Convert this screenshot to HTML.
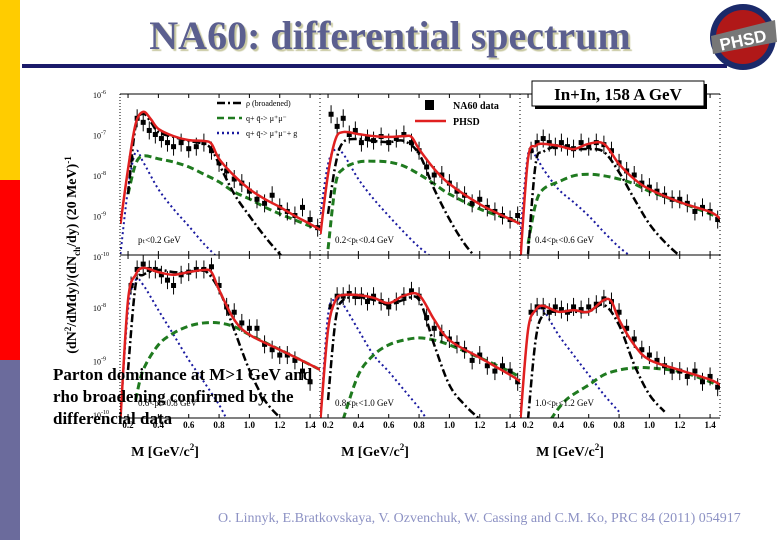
<!DOCTYPE html>
<html><head><meta charset="utf-8"><style>
body{margin:0;width:780px;height:540px;background:#fff;overflow:hidden;position:relative;font-family:"Liberation Serif",serif}
.a{position:absolute}
</style></head><body>
<div class="a" style="left:0;top:0;width:20px;height:180px;background:#ffcc00"></div>
<div class="a" style="left:0;top:180px;width:20px;height:180px;background:#ff0000"></div>
<div class="a" style="left:0;top:360px;width:20px;height:180px;background:#6b6b9c"></div>
<div class="a" style="left:80px;top:12px;width:620px;text-align:center;font-size:40px;font-weight:bold;color:#5b5f8f;text-shadow:2px 2px 1px #c8c8a0">NA60: differential spectrum</div>
<div class="a" style="left:22px;top:64px;width:705px;height:4px;background:#1a1a6a"></div>
<svg class="a" style="left:705px;top:2px" width="75" height="70">
<circle cx="38" cy="35" r="33" fill="#1b2a6a"/><circle cx="38" cy="35" r="27" fill="#b01818"/>
<polygon points="6,34 70,18 72,40 8,52" fill="#777"/>
<text x="38" y="44" font-size="17" font-weight="bold" fill="#fff" text-anchor="middle" transform="rotate(-12 38 38)" font-family="Liberation Sans, sans-serif">PHSD</text></svg>
<svg id="ch" class="a" style="left:0;top:0" width="780" height="540"></svg>
<div class="a" style="left:53px;top:364px;font-size:17px;font-weight:bold;line-height:22px;color:#000">Parton dominance at M&gt;1 GeV and<br>rho broadening confirmed by the<br>differencial data</div>
<div class="a" style="left:218px;top:511px;font-size:14px;color:#8d92c4;white-space:nowrap">O. Linnyk, E.Bratkovskaya, V. Ozvenchuk, W. Cassing and C.M. Ko, PRC 84 (2011) 054917</div>
<script>
// per-panel curves: M values and log10 values
const redM=[[0.15,0.2,0.25,0.3,0.35,0.4,0.5,0.6,0.7,0.75,0.8,0.9,1.0,1.1,1.2,1.3,1.4,1.47],[0.15,0.2,0.25,0.3,0.4,0.5,0.6,0.7,0.75,0.8,0.9,1.0,1.2,1.4,1.47],[0.15,0.2,0.25,0.3,0.4,0.5,0.6,0.7,0.8,0.9,1.0,1.2,1.4,1.47],[0.15,0.2,0.25,0.3,0.4,0.5,0.6,0.7,0.75,0.8,0.9,1.0,1.2,1.4,1.47],[0.15,0.2,0.25,0.3,0.4,0.5,0.6,0.7,0.8,0.9,1.0,1.2,1.4,1.47],[0.15,0.2,0.25,0.3,0.4,0.5,0.6,0.7,0.75,0.8,0.9,1.0,1.2,1.4,1.47]];
const redV=[[-9.21,-7.85,-6.74,-6.44,-6.62,-6.86,-7.04,-7.14,-7.16,-7.23,-7.6,-8.02,-8.35,-8.59,-8.79,-9.01,-9.21,-9.36],[-9.46,-7.98,-7.11,-6.94,-6.99,-7.04,-7.06,-7.04,-7.06,-7.36,-7.85,-8.22,-8.72,-9.09,-9.21],[-10.07,-7.6,-7.28,-7.23,-7.28,-7.36,-7.23,-7.23,-7.73,-8.1,-8.35,-8.67,-8.91,-9.09],[-10.1,-7.87,-7.4,-7.27,-7.35,-7.4,-7.35,-7.31,-7.35,-7.68,-8.24,-8.52,-8.8,-9.08,-9.18],[-10.1,-8.43,-7.87,-7.78,-7.78,-7.83,-7.93,-7.79,-7.78,-8.24,-8.62,-8.95,-9.27,-9.4],[-10.1,-8.43,-8.06,-7.98,-8.09,-8.06,-8.09,-7.87,-7.9,-8.24,-8.71,-8.99,-9.18,-9.36,-9.46]];
const rhoM=[[0.2,0.25,0.3,0.35,0.4,0.5,0.6,0.7,0.75,0.8,0.9,1.0,1.1,1.2,1.3],[0.2,0.25,0.3,0.4,0.5,0.6,0.7,0.8,0.9,1.0,1.1,1.2],[0.2,0.25,0.3,0.4,0.5,0.6,0.7,0.8,0.9,1.0,1.1,1.2],[0.2,0.25,0.3,0.4,0.5,0.6,0.7,0.8,0.9,1.0,1.1,1.2],[0.2,0.25,0.3,0.4,0.5,0.6,0.7,0.8,0.9,1.0,1.1,1.2],[0.2,0.25,0.3,0.4,0.5,0.6,0.7,0.8,0.9,1.0,1.1]];
const rhoV=[[-8.47,-6.79,-6.49,-6.69,-6.94,-7.06,-7.16,-7.23,-7.36,-7.73,-8.47,-9.01,-9.51,-9.95,-10.32],[-8.96,-7.73,-7.19,-7.11,-7.16,-7.19,-7.16,-7.48,-8.35,-9.09,-9.7,-10.15],[-9.95,-7.73,-7.43,-7.28,-7.36,-7.36,-7.43,-7.93,-8.59,-9.21,-9.65,-10.0],[-9.18,-7.59,-7.4,-7.31,-7.35,-7.35,-7.31,-7.68,-8.43,-9.18,-9.74,-10.07],[-9.74,-8.24,-7.87,-7.83,-7.87,-7.96,-7.87,-7.87,-8.71,-9.46,-9.83,-10.1],[-10.1,-8.62,-8.15,-8.09,-8.09,-8.09,-7.96,-8.34,-9.08,-9.64,-9.96]];
const qqM=[[0.2,0.25,0.3,0.4,0.5,0.6,0.7,0.8,0.9,1.0,1.1,1.2,1.3,1.4,1.47],[0.2,0.25,0.3,0.4,0.5,0.6,0.7,0.8,0.9,1.0,1.2,1.4,1.47],[0.2,0.25,0.3,0.4,0.5,0.6,0.7,0.8,0.9,1.0,1.2,1.4,1.47],[0.25,0.3,0.4,0.5,0.6,0.7,0.8,0.9,1.0,1.2,1.4,1.47],[0.3,0.4,0.5,0.6,0.7,0.8,0.9,1.0,1.2,1.4,1.47],[0.35,0.45,0.6,0.7,0.8,0.9,1.0,1.2,1.4,1.47]];
const qqV=[[-8.47,-7.73,-7.53,-7.6,-7.68,-7.8,-7.98,-8.17,-8.42,-8.59,-8.79,-8.96,-9.11,-9.26,-9.33],[-9.83,-8.22,-7.85,-7.68,-7.66,-7.68,-7.78,-7.98,-8.22,-8.47,-8.84,-9.09,-9.16],[-9.7,-8.72,-8.35,-8.17,-8.02,-7.98,-8.02,-8.1,-8.22,-8.4,-8.67,-8.96,-9.09],[-9.74,-9.18,-8.71,-8.49,-8.36,-8.3,-8.3,-8.37,-8.52,-8.8,-9.08,-9.18],[-10.1,-9.27,-8.9,-8.71,-8.62,-8.58,-8.62,-8.71,-8.95,-9.21,-9.33],[-10.1,-9.74,-9.46,-9.27,-9.18,-9.14,-9.14,-9.21,-9.4,-9.51]];
const qqgM=[[0.15,0.2,0.25,0.3,0.4,0.5,0.6,0.7,0.8],[0.15,0.2,0.25,0.3,0.4,0.5,0.6,0.7,0.8,0.9],[0.15,0.2,0.25,0.3,0.4,0.5,0.6,0.7,0.8,0.9],[0.15,0.2,0.25,0.3,0.4,0.5,0.6,0.7,0.8,0.85],[0.15,0.2,0.25,0.3,0.4,0.5,0.6,0.7,0.8,0.85],[0.15,0.2,0.25,0.3,0.4,0.5,0.6,0.7,0.8]];
const qqgV=[[-9.95,-8.35,-7.43,-7.68,-8.35,-8.84,-9.26,-9.7,-10.07],[-8.96,-7.73,-7.36,-7.48,-8.1,-8.59,-9.01,-9.41,-9.78,-10.07],[-9.46,-7.48,-7.53,-7.85,-8.35,-8.67,-9.01,-9.41,-9.78,-10.07],[-10.1,-8.06,-7.5,-7.59,-8.06,-8.52,-8.99,-9.4,-9.83,-10.1],[-10.1,-8.15,-7.87,-7.96,-8.43,-8.9,-9.21,-9.55,-9.89,-10.1],[-10.1,-8.43,-8.09,-8.06,-8.52,-8.9,-9.27,-9.64,-9.96]];
// NA60 data points (M, log10)
const ptsM=[[0.22,0.26,0.3,0.34,0.38,0.42,0.46,0.5,0.55,0.6,0.65,0.7,0.75,0.8,0.85,0.9,0.95,1.0,1.05,1.1,1.15,1.2,1.25,1.3,1.35,1.4,1.45],[0.22,0.26,0.3,0.34,0.38,0.42,0.46,0.5,0.55,0.6,0.65,0.7,0.75,0.8,0.85,0.9,0.95,1.0,1.05,1.1,1.15,1.2,1.25,1.3,1.35,1.4,1.45],[0.22,0.26,0.3,0.34,0.38,0.42,0.46,0.5,0.55,0.6,0.65,0.7,0.75,0.8,0.85,0.9,0.95,1.0,1.05,1.1,1.15,1.2,1.25,1.3,1.35,1.4,1.45],[0.22,0.26,0.3,0.34,0.38,0.42,0.46,0.5,0.55,0.6,0.65,0.7,0.75,0.8,0.85,0.9,0.95,1.0,1.05,1.1,1.15,1.2,1.25,1.3,1.35,1.4],[0.22,0.26,0.3,0.34,0.38,0.42,0.46,0.5,0.55,0.6,0.65,0.7,0.75,0.8,0.85,0.9,0.95,1.0,1.05,1.1,1.15,1.2,1.25,1.3,1.35,1.4,1.45],[0.22,0.26,0.3,0.34,0.38,0.42,0.46,0.5,0.55,0.6,0.65,0.7,0.75,0.8,0.85,0.9,0.95,1.0,1.05,1.1,1.15,1.2,1.25,1.3,1.35,1.4,1.45]];
const ptsV=[[-7.6,-6.6,-6.7,-6.9,-7.0,-7.1,-7.2,-7.3,-7.2,-7.35,-7.3,-7.2,-7.4,-7.7,-7.9,-8.1,-8.2,-8.4,-8.6,-8.7,-8.5,-8.8,-8.9,-9.0,-8.8,-9.1,-9.3],[-6.5,-6.8,-6.6,-7.0,-6.9,-7.2,-7.1,-7.15,-7.05,-7.2,-7.1,-7.0,-7.2,-7.4,-7.8,-8.0,-8.0,-8.2,-8.4,-8.5,-8.7,-8.6,-8.8,-8.9,-9.0,-9.1,-9.0],[-7.4,-7.2,-7.1,-7.2,-7.3,-7.2,-7.3,-7.35,-7.2,-7.3,-7.2,-7.25,-7.4,-7.7,-7.9,-8.0,-8.2,-8.3,-8.4,-8.5,-8.6,-8.6,-8.7,-8.9,-8.8,-8.9,-9.1],[-7.6,-7.3,-7.2,-7.3,-7.3,-7.4,-7.5,-7.6,-7.4,-7.35,-7.3,-7.3,-7.25,-7.6,-8.0,-8.1,-8.3,-8.4,-8.4,-8.7,-8.8,-8.9,-8.9,-9.0,-9.2,-9.4],[-8.0,-7.8,-7.8,-7.75,-7.8,-7.8,-7.9,-7.8,-7.9,-8.0,-7.9,-7.8,-7.7,-7.8,-8.2,-8.4,-8.5,-8.6,-8.7,-8.8,-9.0,-8.9,-9.1,-9.2,-9.1,-9.2,-9.4],[-8.1,-8.0,-8.0,-8.1,-8.0,-8.05,-8.1,-8.0,-8.05,-8.0,-7.95,-7.85,-7.9,-8.1,-8.4,-8.6,-8.8,-8.9,-9.0,-9.1,-9.2,-9.2,-9.3,-9.2,-9.4,-9.3,-9.5]];
const ptLabels=["p\u209C<0.2 GeV","0.2<p\u209C<0.4 GeV","0.4<p\u209C<0.6 GeV","0.6<p\u209C<0.8 GeV","0.8<p\u209C<1.0 GeV","1.0<p\u209C<1.2 GeV"];
const xTicks=[0.2,0.4,0.6,0.8,1.0,1.2,1.4];
const topTicks=[-6,-7,-8,-9,-10];
const botTicks=[-8,-9,-10];

const NS="http://www.w3.org/2000/svg";
const svg=document.getElementById('ch');
function mk(t,a,p){const e=document.createElementNS(NS,t);for(const k in a)e.setAttribute(k,a[k]);(p||svg).appendChild(e);return e;}
const panelX=[120,320,520];
const rows=[{top:94,bot:255,y0:-6,pxd:40.5},{top:255,bot:418,y0:-7.03,pxd:53.5}];
function xs(i,m){return panelX[i%3]+(m-0.147)*151.7;}
function ys(i,v){const r=rows[Math.floor(i/3)];return r.top+(r.y0-v)*r.pxd;}
function path(pts){let d='M'+pts[0][0]+','+pts[0][1];for(let i=0;i<pts.length-1;i++){const p0=pts[Math.max(0,i-1)],p1=pts[i],p2=pts[i+1],p3=pts[Math.min(pts.length-1,i+2)];d+=' C'+(p1[0]+(p2[0]-p0[0])/6)+','+(p1[1]+(p2[1]-p0[1])/6)+' '+(p2[0]-(p3[0]-p1[0])/6)+','+(p2[1]-(p3[1]-p1[1])/6)+' '+p2[0]+','+p2[1];}return d;}
const defs=mk('defs',{});
for(let i=0;i<6;i++){
  const r=rows[Math.floor(i/3)],x0=panelX[i%3];
  const cp=mk('clipPath',{id:'c'+i},defs);
  mk('rect',{x:x0,y:r.top,width:200,height:r.bot-r.top},cp);
  const g=mk('g',{'clip-path':'url(#c'+i+')'});
  
  
  const series=[[qqgM,qqgV,'#1a1aa0',2,'2,3','qqg-curve'],[qqM,qqV,'#1f7a1f',3,'7,4','qq-curve'],[rhoM,rhoV,'#000',2.5,'8,3,2,3','rho-curve']];
  series.forEach(s=>{const p=mk('path',{d:path(s[0][i].map((m,k)=>[xs(i,m),ys(i,s[1][i][k])])),fill:'none',stroke:s[2],'stroke-width':s[3],'stroke-dasharray':s[4]},g);
    
    });
  ptsM[i].forEach((m,k)=>{const x=xs(i,m),y=ys(i,ptsV[i][k]);
    mk('line',{x1:x,x2:x,y1:y-9,y2:y+9,stroke:'#000','stroke-width':1},g);
    const q=mk('rect',{x:x-2.5,y:y-2.5,width:5,height:5,fill:'#000'},g);
    
    });
  const rp=mk('path',{d:path(redM[i].map((m,k)=>[xs(i,m),ys(i,redV[i][k])])),fill:'none',stroke:'#e02020','stroke-width':2.5},g);
  
  
  xTicks.forEach(t=>{const x=xs(i,t);mk('line',{x1:x,x2:x,y1:r.bot,y2:r.bot-4,stroke:'#000'});mk('line',{x1:x,x2:x,y1:r.top,y2:r.top+4,stroke:'#000'});
    if(i>=3){const tl=mk('text',{x:x,y:428,'font-size':9,'font-weight':'bold','text-anchor':'middle'});tl.textContent=t.toFixed(1);
      
      }});
  mk('line',{x1:x0,x2:x0+200,y1:r.bot,y2:r.bot,stroke:'#000','stroke-width':1});
  mk('line',{x1:x0+200,x2:x0+200,y1:r.top,y2:r.bot,stroke:'#000','stroke-dasharray':'1,3'});
  const lb=mk('text',{x:x0+(i%3==0?18:15),y:r.bot-12,'font-size':9});lb.textContent=ptLabels[i];
  
  
}
mk('line',{x1:120,x2:120,y1:94,y2:418,stroke:'#000','stroke-dasharray':'1,2'});
mk('line',{x1:120,x2:720,y1:94,y2:94,stroke:'#000'});
topTicks.forEach(t=>{const tl=mk('text',{x:93,y:ys(0,t)+4,'font-size':8});tl.innerHTML='10<tspan dy="-4" font-size="6">'+t+'</tspan>';
  
  });
botTicks.forEach(t=>{const tl=mk('text',{x:93,y:ys(3,t)+4,'font-size':8});tl.innerHTML='10<tspan dy="-4" font-size="6">'+t+'</tspan>';
  
  });
[165,375,570].forEach(x=>{const t=mk('text',{x:x,y:456,'font-size':14,'font-weight':'bold','text-anchor':'middle'});t.innerHTML='M [GeV/c<tspan dy="-6" font-size="9">2</tspan><tspan dy="6">]</tspan>';
  
  });
const yt=mk('text',{x:0,y:0,'font-size':14,'font-weight':'bold','text-anchor':'middle',transform:'translate(76,255) rotate(-90)'});
yt.innerHTML='(dN<tspan dy="-5" font-size="9">2</tspan><tspan dy="5">/dMdy)/(dN</tspan><tspan dy="4" font-size="9">ch</tspan><tspan dy="-4">/dy)  (20 MeV)</tspan><tspan dy="-5" font-size="9">-1</tspan>';


const leg=[['#000','8,3,2,3','\u03c1 (broadened)',103],['#1f7a1f','7,4','q+ q\u0304-> \u03bc\u207a\u03bc\u207b',118],['#1a1aa0','2,3','q+ q\u0304-> \u03bc\u207a\u03bc\u207b+ g',133]];
leg.forEach(l=>{mk('line',{x1:217,x2:242,y1:l[3],y2:l[3],stroke:l[0],'stroke-width':2.5,'stroke-dasharray':l[1]});const t=mk('text',{x:246,y:l[3]+3,'font-size':8});t.textContent=l[2];
  
  });
mk('rect',{x:425,y:100,width:9,height:10,fill:'#000'});
let t1=mk('text',{x:453,y:109,'font-size':10,'font-weight':'bold'});t1.textContent='NA60 data';


mk('line',{x1:415,x2:446,y1:121,y2:121,stroke:'#e02020','stroke-width':2.5});
let t2=mk('text',{x:453,y:125,'font-size':10,'font-weight':'bold'});t2.textContent='PHSD';


mk('rect',{x:535,y:84,width:172,height:25,fill:'#000'});
mk('rect',{x:532,y:81,width:172,height:25,fill:'#fff',stroke:'#000'});
let t3=mk('text',{x:618,y:100,'font-size':17,'font-weight':'bold','text-anchor':'middle'});t3.textContent='In+In, 158 A GeV';


</script>
</body></html>
